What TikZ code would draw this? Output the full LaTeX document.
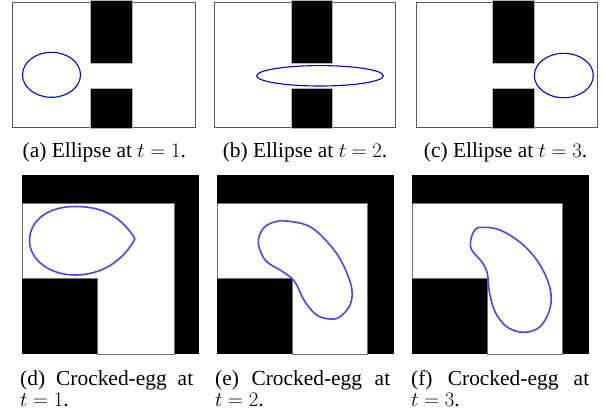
\documentclass[tikz,border=0pt]{standalone}
\usepackage{fontspec}
\setmainfont{Liberation Serif}
\begin{document}
\begin{tikzpicture}[x=1bp,y=-1bp,
  frame/.style={draw=black!65,line width=0.9bp},
  block/.style={fill=black,draw=black!30,line width=0.6bp},
  curveA/.style={draw=blue!90!black,line width=1.1bp},
  curveB/.style={draw={rgb,255:red,72;green,72;blue,240},line width=1.6bp},
  inner/.style={fill=white,draw=black!55,line width=0.8bp},
  captxt/.style={inner sep=0pt,font=\fontsize{21.5}{21}\selectfont}]
\useasboundingbox (0,0) rectangle (605,418);
% ---------- top row ----------
% (a)
\draw[frame,fill=white] (12.7,2) rectangle (195,127.5);
\filldraw[block] (90,0.5) rectangle (132,63);
\filldraw[block] (90,88) rectangle (132,128.5);
\draw[curveA] (51.5,74.8) ellipse [x radius=29, y radius=22.5];
% (b)
\draw[frame,fill=white] (214.7,2) rectangle (395.7,127.5);
\filldraw[block] (291,0.5) rectangle (332.7,63);
\filldraw[block] (291,88) rectangle (332.7,128.5);
\draw[curveA] (320,75.8) ellipse [x radius=63.3, y radius=10.2];
% (c)
\draw[frame,fill=white] (416.3,2) rectangle (597.3,127.5);
\filldraw[block] (492.7,0.5) rectangle (534.7,63);
\filldraw[block] (492.7,88) rectangle (534.7,128.5);
\draw[curveA] (563.8,75.5) ellipse [x radius=29.5, y radius=22.2];
% captions top
\node[captxt,anchor=base] (ca) at (104.3,157.5) {(a) Ellipse at $t=1$.};
\node[captxt,anchor=base] (cb) at (305,157.5) {(b) Ellipse at $t=2$.};
\node[captxt,anchor=base] (cc) at (505.5,157.5) {(c) Ellipse at $t=3$.};
% ---------- bottom row ----------
% (d)
\fill[black] (22,175) rectangle (199,354);
\draw[inner] (22,203) -- (174,203) -- (174,354) -- (97.7,354) -- (97.7,278.3) -- (22,278.3) -- cycle;
\draw[curveB] (135,238.5) .. controls (118,212) and (97,206.5) .. (75,206.5)
  .. controls (46,206.5) and (29.5,222) .. (29.5,240.5)
  .. controls (29.5,260) and (50,275) .. (75,275)
  .. controls (100,275) and (123,262) .. (135,238.5);
% (e)
\fill[black] (217,175) rectangle (394,354);
\draw[inner] (217,203) -- (367.3,203) -- (367.3,354) -- (292.7,354) -- (292.7,278.3) -- (217,278.3) -- cycle;
\draw[curveB] plot[smooth cycle,tension=0.6] coordinates {
  (286.7,221) (310,226.7) (330,245) (343.3,265) (351.7,288.3) (350,305)
  (340,316.7) (330,319) (316.7,315) (305,301.7) (296.7,285) (291.7,278.3)
  (281.7,271) (266.7,261.7) (260,250) (258.3,240) (263.3,228.3) (273.3,222.3)};
% (f)
\fill[black] (412,175) rectangle (589,354);
\draw[inner] (412,203) -- (562,203) -- (562,354) -- (487.3,354) -- (487.3,278.3) -- (412,278.3) -- cycle;
\draw[curveB] plot[smooth cycle,tension=0.6] coordinates {
  (481.7,227.3) (500,230) (523.3,245) (540,265) (550,288.3) (550,308.3)
  (540,326.7) (523.3,332.3) (506.7,326.7) (495,311.7) (489.3,291.7) (487.3,273.3)
  (481.7,261.7) (471.7,250) (470.7,240) (475,230)};
% captions bottom
\node[captxt,anchor=base west] (cd1) at (20,385) {\makebox[173bp][s]{(d) Crocked-egg at}};
\node[captxt,anchor=base west] (cd2) at (20,406) {$t=1$.};
\node[captxt,anchor=base west] (ce1) at (215,385) {\makebox[175bp][s]{(e) Crocked-egg at}};
\node[captxt,anchor=base west] (ce2) at (215,406) {$t=2$.};
\node[captxt,anchor=base west] (cf1) at (411,385) {\makebox[178bp][s]{(f) Crocked-egg at}};
\node[captxt,anchor=base west] (cf2) at (411,406) {$t=3$.};
\end{tikzpicture}
\end{document}
